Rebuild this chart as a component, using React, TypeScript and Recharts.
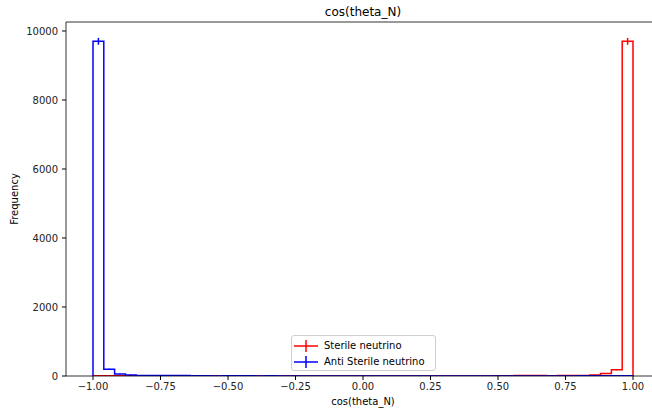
import React from 'react';
import { ComposedChart, Line, Scatter, ErrorBar, XAxis, YAxis, ReferenceLine } from 'recharts';

// bin centers of 50 bins over [-1, 1]
const binCenters = [
  -0.98, -0.94, -0.9, -0.86, -0.82, -0.78, -0.74, -0.7, -0.66, -0.62,
  -0.58, -0.54, -0.5, -0.46, -0.42, -0.38, -0.34, -0.3, -0.26, -0.22,
  -0.18, -0.14, -0.1, -0.06, -0.02, 0.02, 0.06, 0.1, 0.14, 0.18,
  0.22, 0.26, 0.3, 0.34, 0.38, 0.42, 0.46, 0.5, 0.54, 0.58,
  0.62, 0.66, 0.7, 0.74, 0.78, 0.82, 0.86, 0.9, 0.94, 0.98,
];
const binHalfWidth = 0.02;

const sterileCounts = [
  8, 6, 5, 4, 3, 3, 2, 2, 2, 2,
  1, 1, 1, 1, 1, 1, 1, 1, 1, 1,
  1, 1, 1, 1, 1, 1, 1, 1, 1, 1,
  1, 1, 1, 1, 2, 2, 3, 10, 4, 11,
  12, 11, 5, 12, 13, 14, 30, 75, 180, 9700,
];
const antiSterileCounts = [
  9700, 195, 60, 30, 14, 13, 12, 12, 11, 10,
  4, 3, 5, 10, 4, 3, 10, 2, 2, 1,
  1, 1, 1, 1, 1, 1, 1, 1, 1, 1,
  1, 1, 1, 1, 1, 1, 2, 2, 2, 2,
  2, 2, 3, 3, 3, 4, 4, 5, 6, 8,
];

const xTicks = [-1, -0.75, -0.5, -0.25, 0, 0.25, 0.5, 0.75, 1];
const yTicks = [0, 2000, 4000, 6000, 8000, 10000];
const yMax = 10260;

const seriesNames = ['Sterile neutrino', 'Anti Sterile neutrino'];
const seriesColors = ['#ff0000', '#0000ff'];

const stepRows = [
  { x: binCenters[0] - binHalfWidth, red: 0, blue: 0 },
  ...binCenters.map((c, i) => ({ x: c - binHalfWidth, red: sterileCounts[i], blue: antiSterileCounts[i] })),
  { x: binCenters[binCenters.length - 1] + binHalfWidth, red: sterileCounts[49], blue: antiSterileCounts[49] },
  { x: binCenters[binCenters.length - 1] + binHalfWidth, red: 0, blue: 0 },
];

const redPoints = binCenters.map((c, i) => ({ x: c, y: sterileCounts[i], err: Math.sqrt(sterileCounts[i]) }));
const bluePoints = binCenters.map((c, i) => ({ x: c, y: antiSterileCounts[i], err: Math.sqrt(antiSterileCounts[i]) }));

const font = '"DejaVu Sans", sans-serif';
const fmt = (v: number) => (v < 0 ? '\u2212' : '') + Math.abs(v).toFixed(2);
const noShape = () => <g />;

export default function App() {
  return (
    <div style={{ position: 'absolute', left: 0, top: 0, width: 652, height: 412, overflow: 'hidden', background: '#fff', fontFamily: font }}>
      <ComposedChart
        width={690}
        height={412}
        data={stepRows}
        margin={{ top: 22, right: 30, bottom: 0, left: 0 }}
      >
        <XAxis
          dataKey="x"
          type="number"
          domain={[-1.1, 1.1]}
          ticks={xTicks}
          tickFormatter={fmt}
          height={36}
          tickSize={4}
          tickMargin={3}
          interval={0}
          allowDataOverflow
          stroke="#000"
          tick={{ fill: '#222', fontSize: 10, fontFamily: font }}
          tickLine={{ stroke: '#000' }}
          axisLine={{ stroke: '#000', strokeWidth: 0.8 }}
        />
        <YAxis
          type="number"
          domain={[0, yMax]}
          ticks={yTicks}
          width={66}
          tickSize={4}
          tickMargin={4}
          interval={0}
          allowDataOverflow
          tick={{ fill: '#222', fontSize: 10, fontFamily: font }}
          tickLine={{ stroke: '#000' }}
          axisLine={{ stroke: '#000', strokeWidth: 0.8 }}
        />
        <ReferenceLine y={yMax} stroke="#000" strokeWidth={0.8} />
        <Line
          type="stepAfter"
          dataKey="red"
          stroke={seriesColors[0]}
          strokeWidth={1.5}
          dot={false}
          activeDot={false}
          isAnimationActive={false}
        />
        <Scatter data={redPoints} dataKey="y" shape={noShape} isAnimationActive={false}>
          <ErrorBar dataKey="err" direction="y" width={0} stroke={seriesColors[0]} strokeWidth={1.5} isAnimationActive={false} />
        </Scatter>
        <Line
          type="stepAfter"
          dataKey="blue"
          stroke={seriesColors[1]}
          strokeWidth={1.5}
          dot={false}
          activeDot={false}
          isAnimationActive={false}
        />
        <Scatter data={bluePoints} dataKey="y" shape={noShape} isAnimationActive={false}>
          <ErrorBar dataKey="err" direction="y" width={0} stroke={seriesColors[1]} strokeWidth={1.5} isAnimationActive={false} />
        </Scatter>
      </ComposedChart>

      <div style={{ position: 'absolute', left: 263, width: 200, top: 4, textAlign: 'center', fontSize: 12, color: '#000', lineHeight: '16px' }}>
        cos(theta_N)
      </div>
      <div style={{ position: 'absolute', left: 263, width: 200, top: 395, textAlign: 'center', fontSize: 10, color: '#000', lineHeight: '14px' }}>
        cos(theta_N)
      </div>
      <div style={{ position: 'absolute', left: 15, top: 199, width: 0, height: 0 }}>
        <div style={{ position: 'absolute', left: -50, top: -7, width: 100, textAlign: 'center', fontSize: 10, lineHeight: '14px', color: '#000', transform: 'rotate(-90deg)' }}>
          Frequency
        </div>
      </div>

      <div style={{ position: 'absolute', left: 291, top: 335, width: 143, height: 34, border: '1px solid #d0d0d0', borderRadius: 3, background: 'rgba(255,255,255,0.8)', boxSizing: 'content-box' }}>
        {seriesNames.map((name, i) => (
          <div key={name} style={{ position: 'absolute', left: 0, top: 3 + i * 16, height: 14, width: 143 }}>
            <svg width={26} height={14} style={{ position: 'absolute', left: 2, top: 0 }}>
              <line x1={0} y1={7} x2={24} y2={7} stroke={seriesColors[i]} strokeWidth={1.5} />
              <line x1={12} y1={1} x2={12} y2={13} stroke={seriesColors[i]} strokeWidth={1.5} />
            </svg>
            <span style={{ position: 'absolute', left: 32, top: 0, fontSize: 10, lineHeight: '14px', color: '#000', whiteSpace: 'nowrap' }}>{name}</span>
          </div>
        ))}
      </div>
    </div>
  );
}
